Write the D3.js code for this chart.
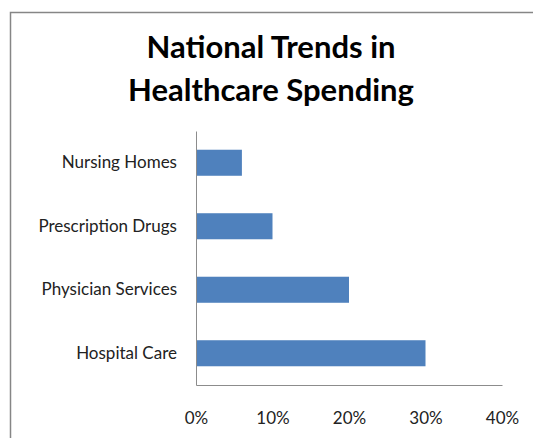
<!DOCTYPE html>
<html>
<head>
<meta charset="utf-8">
<script src="https://cdn.jsdelivr.net/npm/d3@7"></script>
<style>
  body { margin: 0; background: #fff; }
  text { font-family: Lato, "Open Sans", sans-serif; }
</style>
</head>
<body>
<div id="chart"></div>
<script>
// Chart data
var categories = ["Nursing Homes", "Prescription Drugs", "Physician Services", "Hospital Care"];
var values = [6, 10, 20, 30];
var tickValues = [0, 10, 20, 30, 40];

var svgWidth = 533;
var svgHeight = 438;

var margin = { top: 131, right: 31, bottom: 53, left: 196 };
var chartWidth = svgWidth - margin.left - margin.right;
var chartHeight = svgHeight - margin.top - margin.bottom;

var svg = d3.select("#chart")
  .append("svg")
  .attr("width", svgWidth)
  .attr("height", svgHeight);

// outer chart border
svg.append("rect")
  .attr("x", 10.5)
  .attr("y", 12.5)
  .attr("width", 540)
  .attr("height", 440)
  .attr("fill", "#fff")
  .attr("stroke", "#868686")
  .attr("stroke-width", 1.5);

// title
var title = svg.append("text")
  .attr("text-anchor", "middle")
  .attr("font-size", "31px")
  .attr("font-weight", "bold")
  .attr("fill", "#000");
title.append("tspan").attr("x", 271).attr("y", 58).text("National Trends in");
title.append("tspan").attr("x", 271).attr("y", 101).text("Healthcare Spending");

var chartGroup = svg.append("g")
  .attr("transform", `translate(${margin.left}, ${margin.top})`);

var xScale = d3.scaleLinear()
  .domain([0, 40])
  .range([0, chartWidth]);

var yScale = d3.scaleBand()
  .domain(categories)
  .range([0, chartHeight])
  .paddingInner(0.59)
  .paddingOuter(0.295);

// bars
chartGroup.selectAll("rect.bar")
  .data(values)
  .enter()
  .append("rect")
  .attr("class", "bar")
  .attr("x", 0)
  .attr("y", (d, i) => yScale(categories[i]))
  .attr("width", d => xScale(d))
  .attr("height", yScale.bandwidth())
  .attr("fill", "#4f81bd");

// x axis (line + labels, no tick marks)
var xAxis = d3.axisBottom(xScale)
  .tickValues(tickValues)
  .tickSize(0)
  .tickPadding(27)
  .tickFormat(d => d + "%");

var xg = chartGroup.append("g")
  .attr("transform", `translate(0, ${chartHeight})`)
  .call(xAxis);
xg.select(".domain").attr("stroke", "#8c8c8c");
xg.selectAll("text")
  .attr("font-size", "17px")
  .attr("fill", "#222")
  .style("font-family", "Lato, 'Open Sans', sans-serif");

// y axis
var yAxis = d3.axisLeft(yScale).tickSize(0).tickPadding(19);
var yg = chartGroup.append("g").call(yAxis);
yg.select(".domain").attr("stroke", "#8c8c8c");
yg.selectAll("text")
  .attr("font-size", "17px")
  .attr("fill", "#222")
  .style("font-family", "Lato, 'Open Sans', sans-serif");
</script>
</body>
</html>
